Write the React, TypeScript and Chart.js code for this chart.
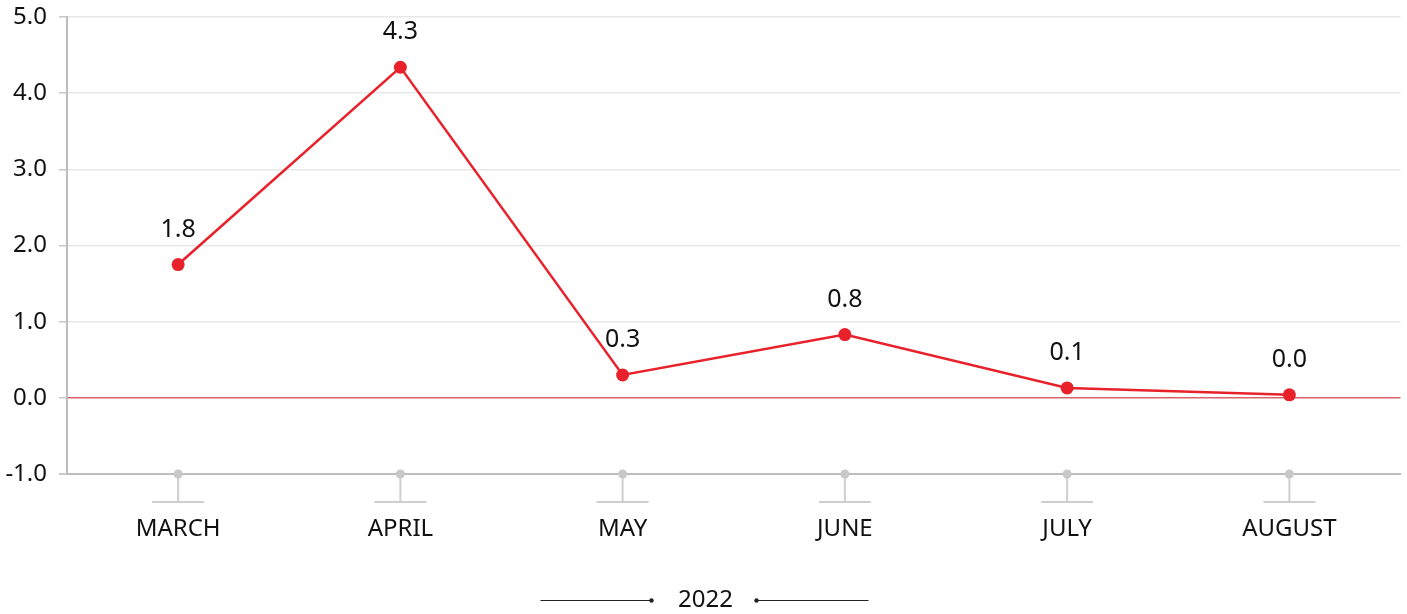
import React, { useEffect, useRef } from "react";
import { Chart, registerables } from "chart.js";

Chart.register(...registerables);

const months = ["MARCH", "APRIL", "MAY", "JUNE", "JULY", "AUGUST"];
const values = [1.75, 4.34, 0.3, 0.83, 0.13, 0.04];
const valueLabels = ["1.8", "4.3", "0.3", "0.8", "0.1", "0.0"];
const yearLabel = "2022";

const FONT = "'Noto Sans', 'Open Sans', sans-serif";
const RED = "#e8212b";

const decorPlugin = {
  id: "decor",
  afterDatasetsDraw(chart: any) {
    const ctx = chart.ctx;
    const meta = chart.getDatasetMeta(0);
    ctx.save();
    ctx.font = `25px ${FONT}`;
    ctx.fillStyle = "#111";
    ctx.textAlign = "center";
    ctx.textBaseline = "middle";
    meta.data.forEach((pt: any, i: number) => {
      ctx.fillText(valueLabels[i], pt.x, pt.y - 35);
    });
    ctx.restore();
  },
  afterDraw(chart: any) {
    const ctx = chart.ctx;
    const xs = chart.scales.x;
    const area = chart.chartArea;
    ctx.save();
    months.forEach((_, i) => {
      const x = xs.getPixelForValue(i);
      ctx.strokeStyle = "#cfcfcf";
      ctx.lineWidth = 2;
      ctx.beginPath();
      ctx.moveTo(x, area.bottom);
      ctx.lineTo(x, area.bottom + 28);
      ctx.moveTo(x - 26, area.bottom + 28);
      ctx.lineTo(x + 26, area.bottom + 28);
      ctx.stroke();
      ctx.fillStyle = "#c8c8c8";
      ctx.beginPath();
      ctx.arc(x, area.bottom, 4.5, 0, Math.PI * 2);
      ctx.fill();
    });
    const cx = chart.width / 2;
    const y = 600;
    ctx.font = `24px ${FONT}`;
    ctx.fillStyle = "#111";
    ctx.textAlign = "center";
    ctx.textBaseline = "middle";
    ctx.fillText(yearLabel, cx + 2, y);
    ctx.strokeStyle = "#222";
    ctx.lineWidth = 1;
    ctx.beginPath();
    ctx.moveTo(cx - 163, y + 0.5);
    ctx.lineTo(cx - 52, y + 0.5);
    ctx.moveTo(cx + 53, y + 0.5);
    ctx.lineTo(cx + 165, y + 0.5);
    ctx.stroke();
    ctx.fillStyle = "#222";
    ctx.beginPath();
    ctx.arc(cx - 52, y + 0.5, 2.2, 0, Math.PI * 2);
    ctx.fill();
    ctx.beginPath();
    ctx.arc(cx + 53, y + 0.5, 2.2, 0, Math.PI * 2);
    ctx.fill();
    ctx.restore();
  },
};

export default function App() {
  const ref = useRef<HTMLCanvasElement | null>(null);
  useEffect(() => {
    if (!ref.current) return;
    const chart = new Chart(ref.current, {
      type: "line",
      data: {
        labels: months,
        datasets: [
          {
            data: values,
            borderColor: RED,
            backgroundColor: RED,
            borderWidth: 2.5,
            pointRadius: 6.5,
            pointBackgroundColor: RED,
            pointBorderWidth: 0,
            tension: 0,
          },
        ],
      },
      options: {
        responsive: false,
        animation: false,
        layout: { padding: { top: 17, right: -3, left: 0, bottom: 0 } },
        plugins: {
          legend: { display: false },
          tooltip: { enabled: false },
        },
        scales: {
          x: {
            offset: true,
            grid: { display: false, drawTicks: false },
            border: { display: true, color: "#bdbdbd", width: 2 },
            ticks: {
              padding: 41,
              color: "#111",
              font: { family: FONT, size: 24 },
              maxRotation: 0,
            },
            afterFit(scale: any) {
              scale.height = 140;
              scale.paddingLeft = 0;
              scale.paddingRight = 0;
            },
          },
          y: {
            min: -1,
            max: 5,
            ticks: {
              stepSize: 1,
              padding: 12,
              color: "#111",
              font: { family: FONT, size: 24 },
              callback: (v: any) => Number(v).toFixed(1),
            },
            grid: {
              color: (c: any) =>
                c.tick && c.tick.value === 0
                  ? "rgba(214,80,90,0.9)"
                  : c.tick && c.tick.value === -1
                  ? "#bdbdbd"
                  : "#e8e8e8",
              lineWidth: (c: any) => (c.tick && c.tick.value === -1 ? 2 : 1.5),
              tickLength: 8,
              tickColor: "#c8c8c8",
            },
            border: { display: true, color: "#bdbdbd", width: 2 },
            afterFit(scale: any) {
              scale.width = 67;
              scale.paddingTop = 0;
              scale.paddingBottom = 0;
            },
          },
        },
      },
      plugins: [decorPlugin],
    });
    return () => chart.destroy();
  }, []);
  return (
    <div style={{ position: "fixed", left: 0, top: 0, width: 1407, height: 614, background: "#fff" }}>
      <canvas ref={ref} width={1407} height={614} style={{ display: "block" }} />
    </div>
  );
}
